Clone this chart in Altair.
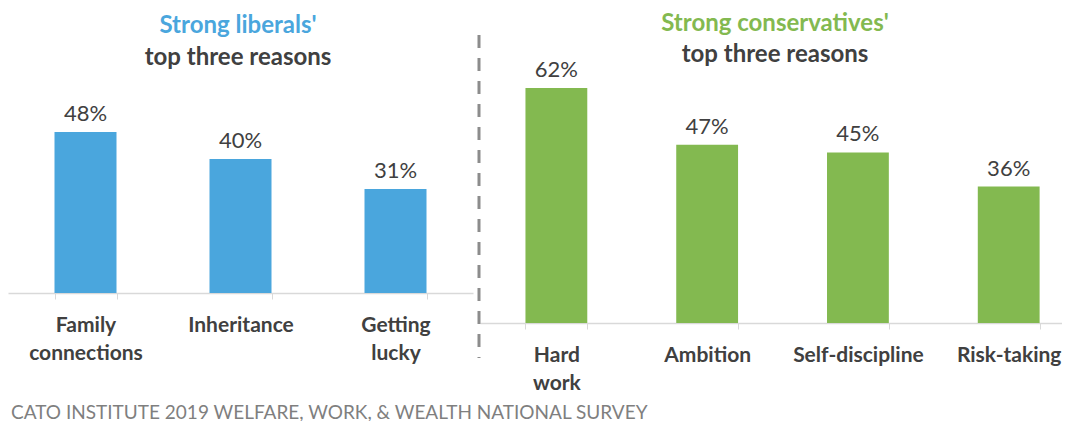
import altair as alt
import pandas as pd

# ---- data ----
lib_reasons = ["Family connections", "Inheritance", "Getting lucky"]
lib_values = [48, 40, 31]
con_reasons = ["Hard work", "Ambition", "Self-discipline", "Risk-taking"]
con_values = [62, 47, 45, 36]

lib_title = ["Strong liberals'", "top three reasons"]
con_title = ["Strong conservatives'", "top three reasons"]
source_note = ["CATO INSTITUTE 2019 WELFARE, WORK, & WEALTH NATIONAL SURVEY"]

BLUE = "#4AA6DD"
GREEN = "#83B950"
DARK = "#404040"
GREY = "#7F7F7F"
FONT = "Lato"


def panel(reasons, values, color, titles, width, height, ymax, title_x, title_ys,
          pad_inner=0.6, pad_outer=0.3, align=0.5, extra=()):
    df = pd.DataFrame({"reason": reasons, "value": values})
    x = alt.X(
        "reason:N",
        sort=None,
        scale=alt.Scale(paddingInner=pad_inner, paddingOuter=pad_outer, align=align),
        axis=alt.Axis(
            title=None,
            labelAngle=0,
            labelExpr="split(datum.label, ' ')",
        ),
    )
    y = alt.Y("value:Q", scale=alt.Scale(domain=[0, ymax], nice=False, zero=True), axis=None)
    base = alt.Chart(df)
    bars = base.mark_bar(color=color).encode(x=x, y=y)
    labels = (
        base.transform_calculate(lbl="datum.value + '%'")
        .mark_text(baseline="alphabetic", dy=-11, font=FONT, fontSize=22, color=DARK)
        .encode(x=x, y=y, text="lbl:N")
    )
    layers = [bars, labels]
    for i, (t, ty) in enumerate(zip(titles, title_ys)):
        layers.append(
            alt.Chart(pd.DataFrame({"t": [t]}))
            .mark_text(
                align="center",
                baseline="alphabetic",
                font=FONT,
                fontWeight="bold",
                fontSize=24,
                color=color if i == 0 else DARK,
            )
            .encode(x=alt.value(title_x), y=alt.value(ty), text="t:N")
        )
    layers.extend(extra)
    return alt.layer(*layers).properties(width=width, height=height)


footer = (
    alt.Chart(pd.DataFrame({"t": source_note}))
    .mark_text(align="left", baseline="alphabetic", font=FONT, fontSize=19, color=GREY)
    .encode(x=alt.value(3), y=alt.value(411), text="t:N")
)

divider = (
    alt.Chart(pd.DataFrame({"k": [0]}))
    .mark_rule(strokeDash=[13, 10], strokeWidth=3, color="#8C8C8C")
    .encode(x=alt.value(-1), y=alt.value(27), y2=alt.value(350))
)

left = panel(lib_reasons, lib_values, BLUE, lib_title, 465, 285, 85, 230, [25, 57],
             extra=[footer])
right = panel(con_reasons, con_values, GREEN, con_title, 582, 315, 83.1, 295, [23, 54],
              pad_inner=0.59, pad_outer=0.225, align=0.67, extra=[divider])

chart = (
    alt.hconcat(left, right, spacing=7, bounds="flush")
    .properties(padding=0)
    .configure_view(stroke=None)
    .configure_axis(
        labelFont=FONT,
        labelFontSize=21,
        labelFontWeight="bold",
        labelColor=DARK,
        labelLineHeight=28,
        labelPadding=15,
        tickBand="extent",
        tickColor="#D9D9D9",
        tickSize=6,
        domainColor="#D9D9D9",
        domainWidth=1.5,
        grid=False,
    )
)

chart.save("out.html", embed_options={"renderer": "svg", "actions": False})
